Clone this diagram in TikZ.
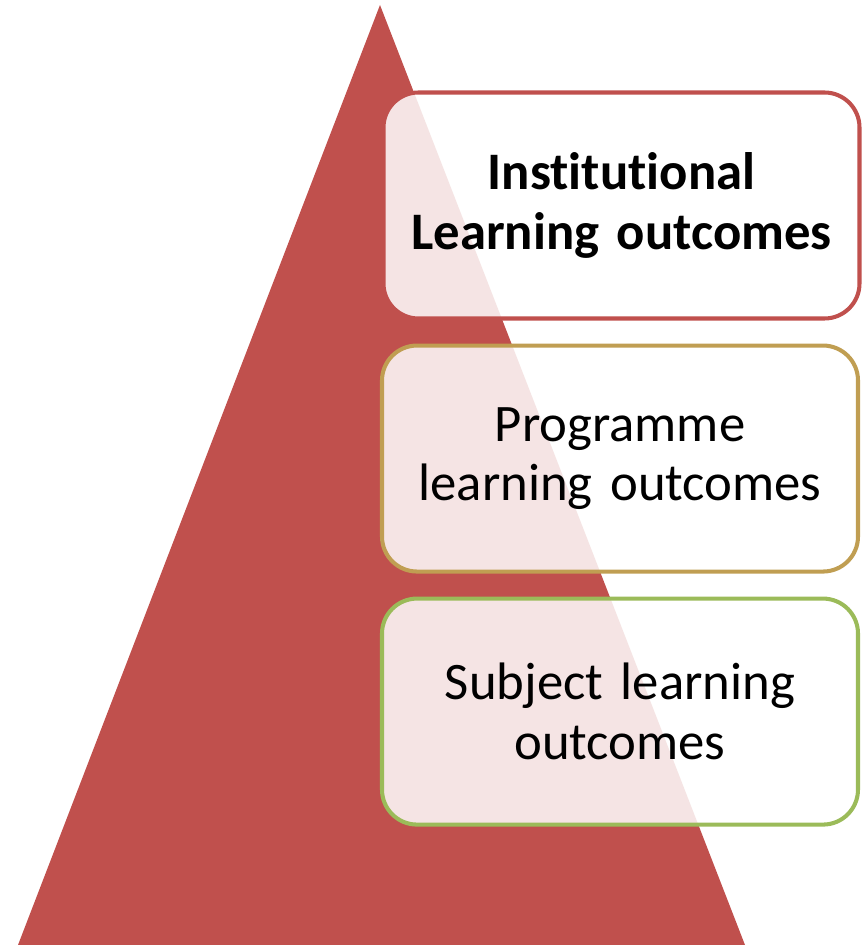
\documentclass[tikz,border=0pt]{standalone}
\usepackage{fontspec}
\setmainfont{Carlito}[Ligatures=NoCommon]
\usepackage{tikz}
\usetikzlibrary{positioning}
\definecolor{pyrred}{RGB}{192,80,77}
\definecolor{mygold}{RGB}{192,158,82}
\definecolor{mygreen}{RGB}{155,187,89}
\tikzset{
  levelbox/.style={rectangle, fill=white, fill opacity=0.85, text opacity=1,
    minimum width=9.52cm, minimum height=4.52cm, text width=9cm, align=center,
    rounded corners=0.7cm, line width=2.3pt,
    font=\fontsize{30}{34}\selectfont},
}

\begin{document}
\begin{tikzpicture}
  \useasboundingbox (0,0) rectangle (17.34,18.9);
  % Pyramid
  \coordinate (apex) at (7.6,18.8);
  \coordinate (baseL) at (0.36,0);
  \coordinate (baseR) at (14.9,0);
  \fill[pyrred] (apex) -- (baseL) -- (baseR) -- cycle;

  % Outcome levels
  \node[levelbox, draw=pyrred] (inst) at (12.43,14.79)
    {\textbf{Institutional\\Learning outcomes}};
  \node[levelbox, draw=mygold, below=0.46cm of inst, xshift=-0.03cm] (prog)
    {Programme\\learning outcomes};
  \node[levelbox, draw=mygreen, below=0.46cm of prog] (subj)
    {Subject learning\\outcomes};
\end{tikzpicture}
\end{document}
